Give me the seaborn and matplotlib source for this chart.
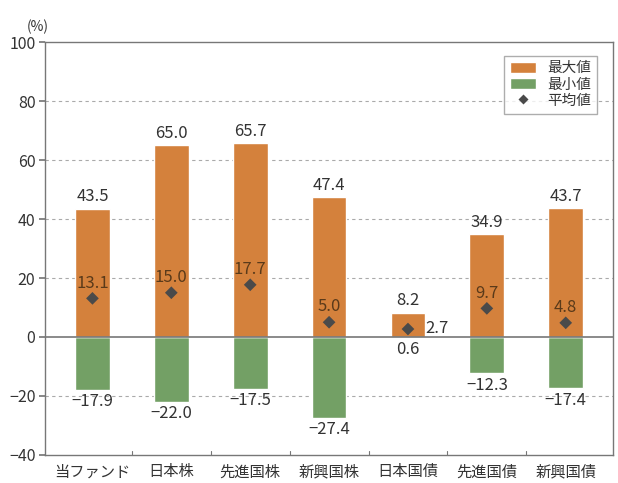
import matplotlib
matplotlib.use("Agg")
import matplotlib.pyplot as plt
import seaborn as sns
import pandas as pd
import numpy as np
from matplotlib.patches import Patch
from matplotlib.lines import Line2D

categories = ["当ファンド", "日本株", "先進国株", "新興国株", "日本国債", "先進国債", "新興国債"]
max_vals = [43.5, 65.0, 65.7, 47.4, 8.2, 34.9, 43.7]
min_vals = [-17.9, -22.0, -17.5, -27.4, 0.6, -12.3, -17.4]
mean_vals = [13.1, 15.0, 17.7, 5.0, 2.7, 9.7, 4.8]
yticks = [100, 80, 60, 40, 20, 0, -20, -40]

sns.set_theme(style="white")
plt.rcParams['font.family'] = ['Noto Sans CJK JP', 'DejaVu Sans']
plt.rcParams['axes.unicode_minus'] = True

orange = "#D4813C"
green = "#73A065"
dark = "#4a4a4a"
txt = "#333333"

fig = plt.figure(figsize=(6.18, 4.83), dpi=100)
ax = fig.add_axes([0.073, 0.058, 0.919, 0.855])

df = pd.DataFrame({"cat": categories, "max": max_vals, "min": min_vals, "mean": mean_vals})

for y in [20, 40, 60, 80, -20]:
    ax.axhline(y, color="#aaaaaa", lw=0.8, ls=(0, (3, 3)), zorder=0)

sns.barplot(data=df, x="cat", y="min", color=green, width=0.44, ax=ax, zorder=2, saturation=1)
sns.barplot(data=df, x="cat", y="max", color=orange, width=0.44, ax=ax, zorder=3, saturation=1)
ax.axhline(0, color="#777777", lw=1.2, zorder=4)
sns.scatterplot(data=df, x="cat", y="mean", marker="D", color=dark, s=42, ax=ax, zorder=5, edgecolor="none")

fs = 12
for i, (mx, mn, me) in enumerate(zip(max_vals, min_vals, mean_vals)):
    ax.text(i, mx + 1.2, f"{mx:.1f}", ha="center", va="bottom", fontsize=fs, color=txt, zorder=6)
    if mn < 0:
        ax.text(i, mn - 1.2, f"{mn:.1f}".replace("-", "\u2212"), ha="center", va="top", fontsize=fs, color=txt, zorder=6)
    else:
        ax.text(i, -1.5, f"{mn:.1f}", ha="center", va="top", fontsize=fs, color=txt, zorder=6)
    if i == 4:
        ax.text(i + 0.22, me + 0.2, f"{me:.1f}", ha="left", va="center", fontsize=fs, color=txt, zorder=6)
    else:
        ax.text(i, me + 2.3, f"{me:.1f}", ha="center", va="bottom", fontsize=fs, color="#5a3a1a", zorder=6)

ax.set_ylim(-40, 100)
ax.set_xlim(-0.6, 6.6)
ax.set_yticks(yticks)
ax.set_yticklabels([str(t).replace("-", "\u2212") for t in yticks], fontsize=11.5, color=txt)
ax.set_xticks(range(len(categories)))
ax.set_xticklabels(categories, fontsize=11, color=txt)
ax.tick_params(axis="x", length=0, pad=6)
ax.tick_params(axis="y", length=4, direction="out", color="#777777", left=True, pad=3)
for b in np.arange(0.5, 6.0, 1.0):
    ax.plot([b, b], [-40, -38.5], color="#777777", lw=0.8, zorder=6, clip_on=False)
ax.set_xlabel("")
ax.set_ylabel("")
for s in ax.spines.values():
    s.set_color("#777777")
    s.set_linewidth(1.0)

fig.text(0.073 - 0.012, 0.935, "(%)", fontsize=10, color=txt, ha="center")

handles = [Patch(facecolor=orange, label="最大値"),
           Patch(facecolor=green, label="最小値"),
           Line2D([0], [0], marker="D", color="none", markerfacecolor=dark, markeredgecolor="none", markersize=5, label="平均値")]
leg = ax.legend(handles=handles, loc="upper right", fontsize=10.5, frameon=True, fancybox=False,
                edgecolor="#999999", handlelength=1.8, handleheight=0.8, borderpad=0.4, labelspacing=0.15,
                bbox_to_anchor=(0.985, 0.985))
for t in leg.get_texts():
    t.set_color(txt)

fig.savefig("out.png", dpi=100)
